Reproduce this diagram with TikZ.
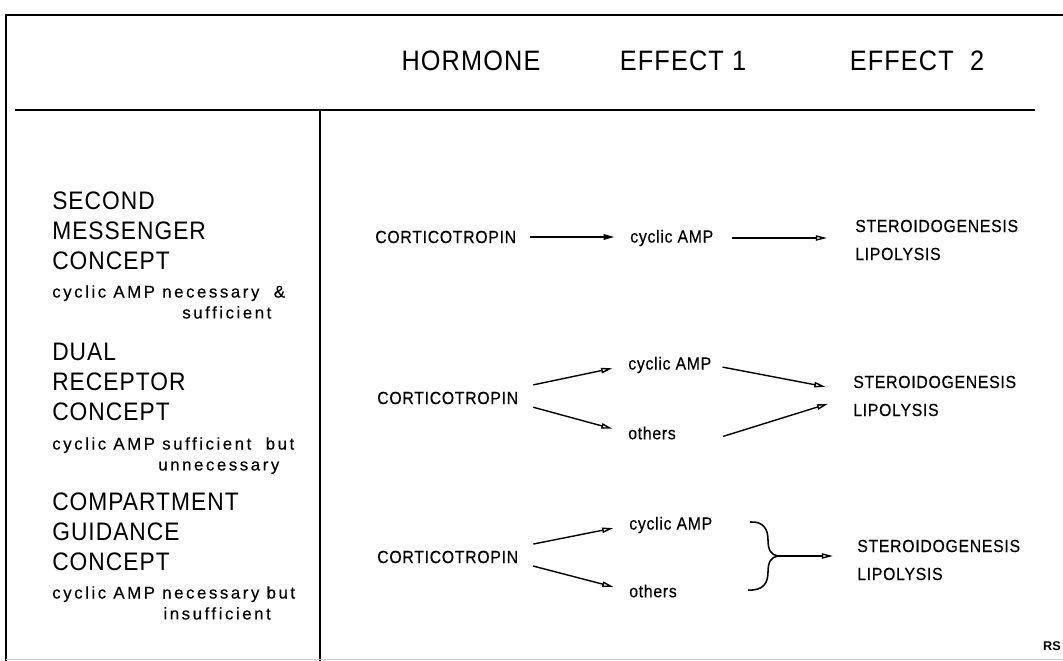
\documentclass[tikz,border=0pt]{standalone}
\usepackage{fontspec}
\setmainfont{Liberation Sans}
\newfontfamily\headfont[FakeStretch=0.9,LetterSpace=4]{Liberation Sans}
\newfontfamily\rowfont[FakeStretch=0.9,LetterSpace=4,FakeBold=0.4]{Liberation Sans}
\newfontfamily\notefont[LetterSpace=15,FakeBold=0.4]{Liberation Sans}
\usetikzlibrary{arrows.meta,calc}

\begin{document}
\begin{tikzpicture}[x=0.025cm, y=-0.025cm,
  >={Triangle[open,length=8pt,width=3.8pt]},
  head/.style={inner sep=0pt, font=\headfont\fontsize{20}{24}\selectfont},
  concept/.style={inner sep=0pt, anchor=north west, align=left,
    font=\headfont\fontsize{18}{21.3}\selectfont},
  note/.style={inner sep=0pt, anchor=north west, align=left,
    font=\notefont\fontsize{12}{14.9}\selectfont},
  entry/.style={inner sep=0pt, anchor=west, align=left,
    font=\rowfont\fontsize{12.5}{19.9}\selectfont},
  arr/.style={->, line width=1pt}]
  \useasboundingbox (0,0) rectangle (1063,661);
  % frame and rules
  \draw[line width=1.8pt] (5,15) -- (1063,15);
  \draw[line width=1.2pt] (6,14) -- (6,661);
  \draw[line width=1.5pt] (15,110) -- (1035,110);
  \draw[line width=0.8pt] (320,110) -- (320,661);
  \draw[gray!40, line width=0.6pt] (6,659) -- (1063,659);
  % column heads
  \node[head] (hor) at (471,61) {HORMONE};
  \node[head] (ef1) at (683,61) {EFFECT 1};
  \node[head] (ef2) at (917,61) {EFFECT\ \ 2};
  % concepts
  \node[concept] (smc) at (52,192) {SECOND\\MESSENGER\\CONCEPT};
  \node[note] (smn) at (52,285) {cyclic AMP necessary \ \&\\\hspace*{3.25cm}sufficient};
  \node[concept] (drc) at (52,343) {DUAL\\RECEPTOR\\CONCEPT};
  \node[note] (drn) at (52,437) {cyclic AMP sufficient \ but\\\hspace*{2.65cm}unnecessary};
  \node[concept] (cgc) at (52,493) {COMPARTMENT\\GUIDANCE\\CONCEPT};
  \node[note] (cgn) at (52,586) {cyclic AMP necessary but\\\hspace*{2.78cm}insufficient};
  % row 1
  \node[entry] (cort1) at (375,237) {CORTICOTROPIN};
  \node[entry] (cyc1) at (630,238) {cyclic AMP};
  \node[entry] (eff1) at (855,240) {STEROIDOGENESIS\\LIPOLYSIS};
  \draw[arr, line width=1.5pt, shorten <=0.33cm, shorten >=0.38cm] (cort1.east) -- (cort1.east -| cyc1.west);
  \draw[arr, shorten <=0.45cm, shorten >=0.7cm] (cyc1.east) -- (cyc1.east -| eff1.west);
  % row 2
  \node[entry] (cort2) at (377,398) {CORTICOTROPIN};
  \node[entry] (cyc2) at (628,365) {cyclic AMP};
  \node[entry] (oth2) at (628,433) {others};
  \node[entry] (eff2) at (853,396) {STEROIDOGENESIS\\LIPOLYSIS};
  \draw[arr, shorten <=0.38cm, shorten >=0.4cm] ([yshift=0.25cm]cort2.east) -- (cyc2.west);
  \draw[arr, shorten <=0.38cm, shorten >=0.4cm] ([yshift=-0.13cm]cort2.east) -- (oth2.west);
  \draw[arr, shorten <=0.28cm, shorten >=0.7cm] (cyc2.east) -- ([yshift=0.1cm]eff2.west);
  \coordinate (oth2e) at ($(oth2.east -| cyc2.east)+(0,7)$);
  \draw[arr, shorten <=0.3cm, shorten >=0.65cm] (oth2e) -- (eff2.west);
  % row 3
  \node[entry] (cort3) at (377,557) {CORTICOTROPIN};
  \node[entry] (cyc3) at (629,525) {cyclic AMP};
  \node[entry] (oth3) at (629,591) {others};
  \node[entry] (eff3) at (857,560) {STEROIDOGENESIS\\LIPOLYSIS};
  \draw[arr, shorten <=0.38cm, shorten >=0.4cm] ([yshift=0.25cm]cort3.east) -- (cyc3.west);
  \draw[arr, shorten <=0.38cm, shorten >=0.4cm] ([yshift=-0.13cm]cort3.east) -- (oth3.west);
  \coordinate (brt) at (750,522);
  \coordinate (brm) at (778,556);
  \coordinate (brb) at (748,590);
  \draw[line width=1.1pt] (brt) .. controls (764,521) and (768,530) .. (768,540)
    .. controls (768,550) and (771,555) .. (brm);
  \draw[line width=1.1pt] (brb) .. controls (764,591) and (768,582) .. (768,572)
    .. controls (768,562) and (771,557) .. (brm);
  \draw[arr, shorten >=0.6cm] (brm) -- (brm -| eff3.west);
  \node[inner sep=0pt, anchor=east, font=\bfseries\fontsize{9}{10}\selectfont] (rs) at (1061,646) {RS};
\end{tikzpicture}
\end{document}
